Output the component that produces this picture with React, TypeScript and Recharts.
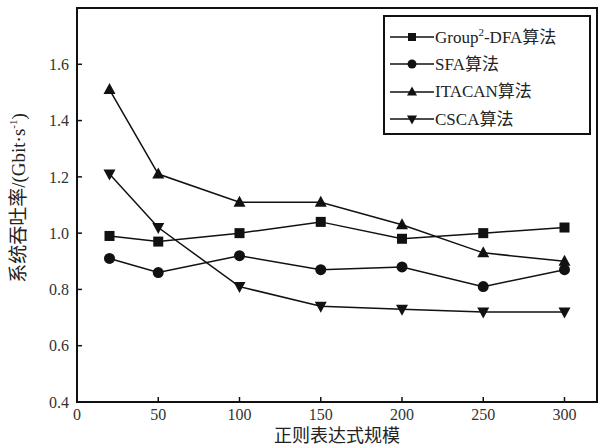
import { Line, LineChart, XAxis, YAxis, ReferenceArea } from "recharts";

const scales = [20, 50, 100, 150, 200, 250, 300];
const groupDfa = [0.99, 0.97, 1.0, 1.04, 0.98, 1.0, 1.02];
const sfa = [0.91, 0.86, 0.92, 0.87, 0.88, 0.81, 0.87];
const itacan = [1.51, 1.21, 1.11, 1.11, 1.03, 0.93, 0.9];
const csca = [1.21, 1.02, 0.81, 0.74, 0.73, 0.72, 0.72];
const xTicks = [0, 50, 100, 150, 200, 250, 300];
const yTicks = [0.4, 0.6, 0.8, 1.0, 1.2, 1.4, 1.6];

const data = scales.map((x, i) => ({
  x,
  groupDfa: groupDfa[i],
  sfa: sfa[i],
  itacan: itacan[i],
  csca: csca[i],
}));

const FONT = '"Liberation Serif", "Noto Sans CJK SC", serif';

type Shape = "square" | "circle" | "up" | "down";

function marker(shape: Shape, cx: number, cy: number, r = 5.5, key?: string) {
  if (shape === "square")
    return <rect key={key} x={cx - r + 0.5} y={cy - r + 0.5} width={2 * r - 1} height={2 * r - 1} fill="#111" />;
  if (shape === "circle") return <circle key={key} cx={cx} cy={cy} r={r} fill="#111" />;
  if (shape === "up")
    return (
      <polygon
        key={key}
        points={`${cx},${cy - r - 1} ${cx - r - 0.5},${cy + r - 1} ${cx + r + 0.5},${cy + r - 1}`}
        fill="#111"
      />
    );
  return (
    <polygon
      key={key}
      points={`${cx},${cy + r + 1} ${cx - r - 0.5},${cy - r + 1} ${cx + r + 0.5},${cy - r + 1}`}
      fill="#111"
    />
  );
}

const dotFor = (shape: Shape) => (props: any) =>
  marker(shape, props.cx, props.cy, 5.5, `${shape}-${props.index}`);

const legendItems: { label: React.ReactNode; shape: Shape }[] = [
  { label: <>Group<sup style={{ fontSize: 11 }}>2</sup>-DFA算法</>, shape: "square" },
  { label: "SFA算法", shape: "circle" },
  { label: "ITACAN算法", shape: "up" },
  { label: "CSCA算法", shape: "down" },
];

function LegendBox() {
  return (
    <div
      style={{
        position: "absolute",
        left: 383,
        top: 15,
        border: "2px solid #111",
        width: 208,
        height: 120,
        boxSizing: "border-box",
        background: "#fff",
        padding: "6px 0 0 5px",
        fontFamily: FONT,
        fontSize: 17,
        color: "#222",
        lineHeight: 1,
      }}
    >
      {legendItems.map((it, i) => (
        <div key={i} style={{ display: "flex", alignItems: "center", height: 27.5 }}>
          <svg width={44} height={14} style={{ marginRight: 1 }}>
            <line x1={0} y1={7} x2={44} y2={7} stroke="#111" strokeWidth={1.5} />
            {marker(it.shape, 22, 7, 4.5)}
          </svg>
          <span>{it.label}</span>
        </div>
      ))}
    </div>
  );
}

function YLabel(props: any) {
  const cy = props.viewBox.y + props.viewBox.height / 2 - 7;
  const cx = 21;
  return (
    <text
      x={cx}
      y={cy}
      transform={`rotate(-90, ${cx}, ${cy})`}
      textAnchor="middle"
      dominantBaseline="middle"
      fontFamily={FONT}
      fontSize={19}
      fill="#222"
    >
      系统吞吐率/(Gbit·s<tspan dy={-7} fontSize={11}>-1</tspan>
      <tspan dy={7}>)</tspan>
    </text>
  );
}

export default function App() {
  return (
    <div style={{ position: "absolute", left: 0, top: 0, background: "#fff", width: 602, height: 447 }}>
      <LineChart
        width={602}
        height={447}
        data={data}
        margin={{ top: 8, right: 5, left: 0, bottom: 0 }}
      >
        <XAxis
          type="number"
          dataKey="x"
          domain={[0, 320]}
          ticks={xTicks}
          allowDataOverflow
          height={45}
          tickSize={-5}
          tickMargin={12}
          axisLine={{ stroke: "#111", strokeWidth: 2 }}
          tickLine={{ stroke: "#111", strokeWidth: 1.5 }}
          tick={{ fontFamily: FONT, fontSize: 16, fill: "#333" }}
          label={{
            value: "正则表达式规模",
            position: "insideBottom",
            offset: 5,
            fontFamily: FONT,
            fontSize: 18,
            fill: "#222",
          }}
        />
        <YAxis
          type="number"
          domain={[0.4, 1.8]}
          ticks={yTicks}
          allowDataOverflow
          width={77}
          tickSize={-5}
          tickMargin={13}
          tickFormatter={(v: number) => v.toFixed(1)}
          axisLine={{ stroke: "#111", strokeWidth: 2 }}
          tickLine={{ stroke: "#111", strokeWidth: 1.5 }}
          tick={{ fontFamily: FONT, fontSize: 16, fill: "#333" }}
          label={<YLabel />}
        />
        <ReferenceArea
          x1={0}
          x2={320}
          y1={0.4}
          y2={1.8}
          fill="none"
          stroke="#111"
          strokeWidth={2}
          ifOverflow="extendDomain"
        />
        <Line dataKey="groupDfa" stroke="#111" strokeWidth={1.5} dot={dotFor("square")} isAnimationActive={false} />
        <Line dataKey="sfa" stroke="#111" strokeWidth={1.5} dot={dotFor("circle")} isAnimationActive={false} />
        <Line dataKey="itacan" stroke="#111" strokeWidth={1.5} dot={dotFor("up")} isAnimationActive={false} />
        <Line dataKey="csca" stroke="#111" strokeWidth={1.5} dot={dotFor("down")} isAnimationActive={false} />
      </LineChart>
      <LegendBox />
    </div>
  );
}
